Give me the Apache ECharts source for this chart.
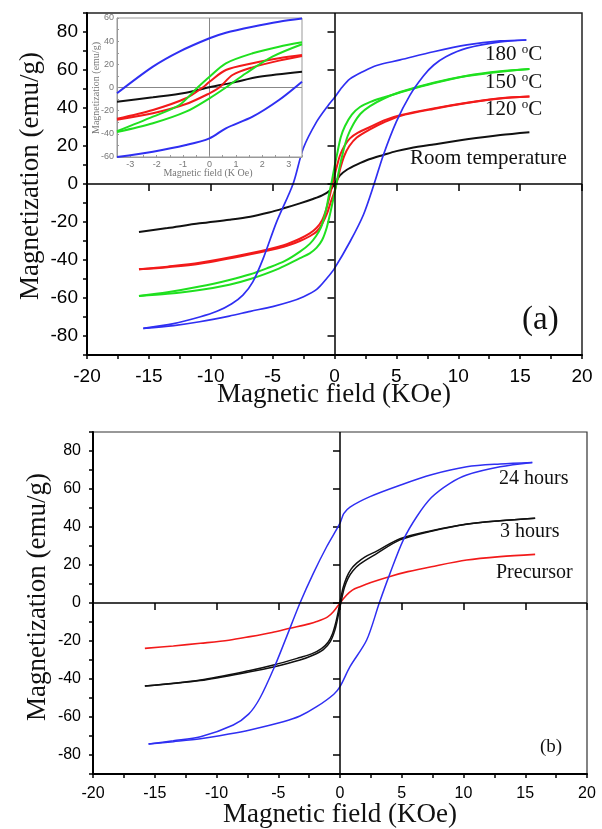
<!DOCTYPE html>
<html>
<head>
<meta charset="utf-8">
<script src="https://cdn.jsdelivr.net/npm/echarts@6/dist/echarts.min.js"></script>
<style>
html, body { margin: 0; padding: 0; background: #fff; }
#chart { width: 602px; height: 829px; }
</style>
</head>
<body>
<div id="chart"></div>
<script>
// panel (a): loops measured at different temperatures, [field KOe, emu/g]
const a180Down = [[15.5,75.8],[13.4,75.3],[10.7,73.2],[8,69.6],[5.3,65.3],[3.4,62.4],[2.4,59.5],[1.25,55.3],[0.5,50],[0,45.5],[-0.5,41.5],[-1.44,32.8],[-2.52,18.8],[-3.35,0],[-4.67,-19.8],[-5.75,-39],[-6.6,-51.5],[-7.4,-58.5],[-8.3,-63],[-9.5,-67],[-10.9,-70],[-13,-73.5],[-15.45,-76]];
const a180Up = [[-15.45,-76],[-13,-74.5],[-10.9,-72.5],[-8.5,-69.5],[-6.8,-67],[-5,-64.5],[-3.6,-62],[-2.5,-59.3],[-1.44,-55.5],[-0.6,-49.5],[0,-44.4],[1.25,-30.4],[2.33,-16.3],[3.2,0],[3.95,15.3],[5.0,32.8],[6.1,46.8],[7.2,57],[8,62.5],[9,67],[10.7,71.5],[13.4,74.8],[15.5,75.8]];
const a150Down = [[15.75,60.5],[13.4,59.1],[10.7,56.8],[8,53],[5.3,48.2],[3.95,45.5],[2.9,43.2],[2.06,40.5],[1.4,36.5],[0.85,30.5],[0.5,24.5],[0.25,17],[0,9],[-0.2,2],[-0.4,-4],[-0.6,-11],[-0.85,-18],[-1.1,-23],[-1.5,-27.5],[-2,-31.5],[-2.79,-35.6],[-4,-40.5],[-5.48,-44.4],[-6.8,-47.5],[-8.5,-50.5],[-10.9,-54],[-13.5,-57],[-15.8,-58.9]];
const a150Up = [[-15.8,-58.9],[-13.5,-57.8],[-10.9,-55.8],[-8.5,-53],[-6.8,-50],[-4.5,-44.5],[-2.79,-39],[-2,-36.5],[-1.44,-33.5],[-1,-29.5],[-0.63,-23],[-0.35,-15.5],[-0.1,-8],[0.15,0],[0.4,8.5],[0.7,17],[1.05,25],[1.52,31.5],[2.1,37],[2.87,41],[4,45],[5.3,48.4],[8,53.3],[10.7,57],[13.4,59.3],[15.75,60.5]];
const a120Down = [[15.75,46],[13.4,45.1],[10.7,42.8],[8,39.8],[5.3,36.2],[4,33.5],[2.87,30],[1.9,27],[1.25,24],[0.8,20],[0.44,15],[0.2,9.5],[0,4.5],[-0.23,-2],[-0.45,-8],[-0.7,-14],[-1,-19],[-1.44,-23],[-2,-26],[-2.8,-28.8],[-4.1,-32.2],[-6.8,-36.5],[-10.9,-41.5],[-13.5,-43.5],[-15.8,-44.9]];
const a120Up = [[-15.8,-44.9],[-13.5,-43.8],[-10.9,-42],[-6.8,-37],[-4.1,-33],[-2.8,-30],[-2,-27.5],[-1.44,-25],[-1,-21],[-0.6,-15.5],[-0.3,-9.5],[0,-4],[0.25,2.5],[0.5,9],[0.8,15],[1.2,20],[1.8,24.5],[2.87,28.8],[4,32.5],[5.3,35.8],[8,39.5],[10.7,42.6],[13.4,45],[15.75,46]];
const aRoom = [[-15.8,-25.3],[-13.5,-23.2],[-10.9,-20.7],[-8.5,-18.8],[-6.8,-17.2],[-5.3,-15],[-4.1,-12.8],[-2.8,-10.2],[-1.8,-8],[-1,-6],[-0.4,-3.5],[0,0],[0.44,4.5],[1,7.5],[1.8,10.2],[2.8,13],[3.95,15.3],[5,17.3],[6.1,18.8],[8,20.8],[10.7,23.5],[13.4,25.8],[15.75,27.3]];

// inset of panel (a), low-field part
const i180Down = [[3.5,59.5],[2.63,56.8],[1.63,52.5],[0.62,47.3],[0,42.5],[-1.14,31],[-2.14,18],[-3.5,-5]];
const i180Up = [[-3.5,-60],[-2.14,-55.4],[-0.89,-49.7],[0,-43.9],[0.62,-35.2],[1.63,-25.2],[2.63,-10.8],[3.5,5]];
const i150Down = [[3.5,39],[2.63,35.2],[1.63,29.5],[0.62,20.9],[0,9.3],[-0.45,0],[-1.14,-15.1],[-2.14,-25.2],[-3.5,-37.8]];
const i150Up = [[-3.5,-38.5],[-2.14,-30.9],[-0.89,-20.9],[0,-9.3],[0.62,0],[1.38,12.3],[2.38,26.6],[3.5,37.3]];
const i120Down = [[3.5,28],[2.63,25.2],[1.63,20.9],[0.62,15.1],[0,5],[-0.26,0],[-0.89,-9.3],[-2.14,-19.4],[-3.5,-27]];
const i120Up = [[-3.5,-27.8],[-2.14,-22.3],[-0.89,-14.3],[0,-5],[0.37,0],[0.87,10.8],[1.63,17.4],[2.63,23.2],[3.5,27.2]];
const iRoom = [[-3.5,-12.3],[-2.14,-8.5],[-0.89,-4.5],[0,0.2],[0.87,4.2],[1.88,9.3],[3.5,13.7]];

// panel (b): reaction time
const b24Down = [[15.57,74],[12.96,73.2],[10.26,71.7],[7.4,67.5],[4.86,62],[2.43,56],[0.81,50.5],[0.3,47],[0,42],[-1.08,29.6],[-2.16,15.6],[-3.24,0],[-4.32,-17.7],[-5.3,-33.5],[-6.48,-50],[-7.4,-58.5],[-8.64,-64.2],[-11.3,-70.4],[-13.5,-72.5],[-15.5,-74.2]];
const b24Up = [[-15.5,-74.2],[-13.5,-73],[-11.3,-71.5],[-9,-69],[-7.29,-66.8],[-4.6,-62.5],[-3.24,-59.5],[-1.89,-54.6],[-0.5,-48],[0,-44],[0.81,-33.5],[2.16,-19.5],[3.18,0],[4.05,15.6],[5.13,33.2],[6.21,45.4],[7.4,55.5],[8.9,63],[10.26,67.4],[12.96,71.7],[15.57,74]];
const b3Down = [[15.8,44.6],[12.96,43.3],[10.26,41.6],[7.4,38],[4.86,33.8],[2.97,27.3],[2,24.2],[1.35,21],[0.9,17.8],[0.54,13.5],[0.25,8],[0.05,2],[-0.13,-4],[-0.35,-10.5],[-0.6,-16],[-0.95,-20.5],[-1.5,-24],[-2.3,-26.8],[-3.24,-28.7],[-5.3,-32.5],[-7.29,-35.5],[-11.3,-40.5],[-15.8,-43.7]];
const b3Up = [[-15.8,-43.7],[-11.3,-40.8],[-7.29,-36.2],[-5.3,-33.5],[-3.24,-30],[-2.2,-27.5],[-1.35,-24.5],[-0.8,-20.5],[-0.4,-14],[-0.12,-6],[0.1,1],[0.35,8],[0.65,13],[1.05,17],[1.6,20.5],[2.97,26],[4.86,33.2],[7.4,37.8],[10.26,41.5],[12.96,43.3],[15.8,44.6]];
const bPrecursor = [[-15.8,-23.9],[-13.5,-22.6],[-11.3,-21.2],[-9,-19.6],[-7.29,-17.7],[-5.5,-15.5],[-4.05,-13.3],[-2.5,-11],[-1.89,-9.8],[-1,-7.3],[-0.54,-4.6],[0,0],[0.54,4.2],[1.0,6.8],[1.62,8.6],[2.5,10.8],[4.05,14],[5.5,16.5],[7.4,19.1],[10.26,22.6],[12.96,24.4],[15.8,25.6]];

const yMajor = [-80, -60, -40, -20, 0, 20, 40, 60, 80];

const SANS = 'Liberation Sans';
const SERIF = 'Liberation Serif';
const BLUE = '#2f2ff2', GREEN = '#1fe01f', RED = '#f21a1a', BLACK = '#111';

const chart = echarts.init(document.getElementById('chart'), null, { renderer: 'canvas' });

function fieldAxis(gridIndex, fontSize, margin) {
  return {
    type: 'value', gridIndex, min: -20, max: 20, interval: 2.5,
    axisLine: { show: true, onZero: false, lineStyle: { color: '#000', width: 2 } },
    axisTick: { show: true, length: 4, lineStyle: { color: '#000', width: 1.5 } },
    axisLabel: { formatter: v => (v % 5 === 0 ? String(v) : ''), fontFamily: SANS, fontSize, color: '#000', margin },
    splitLine: { show: false }
  };
}
function fieldMajor(gridIndex) {
  return {
    type: 'value', gridIndex, min: -20, max: 20, interval: 5, position: 'bottom',
    axisLine: { show: false }, axisLabel: { show: false }, splitLine: { show: false },
    axisTick: { show: true, length: 7, lineStyle: { color: '#000', width: 1.5 } }
  };
}
function magAxis(gridIndex, fontSize, margin) {
  return {
    type: 'value', gridIndex, min: -90, max: 90, interval: 10, position: 'left',
    axisLine: { show: true, onZero: false, lineStyle: { color: '#000', width: 2 } },
    axisTick: { show: true, length: 4, lineStyle: { color: '#000', width: 1.5 } },
    axisLabel: { formatter: v => (v % 20 === 0 ? String(v) : ''), fontFamily: SANS, fontSize, color: '#000', margin },
    splitLine: { show: false }
  };
}
function magMajor(gridIndex) {
  return {
    type: 'value', gridIndex, min: -90, max: 90, position: 'left',
    axisLine: { show: false }, axisLabel: { show: false }, splitLine: { show: false },
    axisTick: { show: true, length: 7, customValues: yMajor, lineStyle: { color: '#000', width: 1.5 } }
  };
}

function zeroLines(color, width) {
  return {
    silent: true, symbol: ['none', 'none'], animation: false,
    label: { show: false },
    lineStyle: { color, width, type: 'solid' },
    data: [{ xAxis: 0 }, { yAxis: 0 }]
  };
}

function curve(data, color, width, axis, z, withZero) {
  const s = {
    type: 'line', data, xAxisIndex: axis, yAxisIndex: axis,
    showSymbol: false, smooth: 0.3, animation: false, silent: true,
    lineStyle: { color, width }, z: z
  };
  if (withZero) s.markLine = withZero;
  return s;
}

function label(text, x, y, size, extra) {
  return {
    type: 'text', x, y, silent: true, z: 10,
    style: Object.assign({
      text, fontFamily: SERIF, fontSize: size, fill: '#111',
      textAlign: 'left', textVerticalAlign: 'middle',
      rich: { s: { fontFamily: SERIF, fontSize: Math.round(size * 0.6), verticalAlign: 'top', fill: '#111' } }
    }, extra || {})
  };
}

const option = {
  backgroundColor: '#fff',
  animation: false,
  grid: [
    { left: 87, top: 13, width: 495, height: 342, show: true, borderColor: '#222', borderWidth: 1.5, backgroundColor: 'transparent' },
    { left: 117, top: 18, width: 185, height: 139, show: true, borderColor: '#999', borderWidth: 1, backgroundColor: '#fff', z: 4 },
    { left: 93, top: 432, width: 494, height: 342, show: true, borderColor: '#333', borderWidth: 1.2, backgroundColor: 'transparent' }
  ],
  xAxis: [
    fieldAxis(0, 19, 12),
    fieldMajor(0),
    {
      type: 'value', gridIndex: 1, min: -3.5, max: 3.5, interval: 0.5, z: 5,
      axisLine: { show: true, onZero: false, lineStyle: { color: '#999', width: 1 } },
      axisTick: { show: true, inside: true, length: 2, lineStyle: { color: '#999' } },
      axisLabel: { formatter: v => (Number.isInteger(v) ? String(v) : ''), fontFamily: SANS, fontSize: 9, color: '#777', margin: 3 },
      splitLine: { show: false }
    },
    fieldAxis(2, 16, 12),
    fieldMajor(2)
  ],
  yAxis: [
    magAxis(0, 19, 9),
    magMajor(0),
    {
      type: 'value', gridIndex: 1, min: -60, max: 60, interval: 10, z: 5,
      axisLine: { show: true, onZero: false, lineStyle: { color: '#999', width: 1 } },
      axisTick: { show: true, inside: true, length: 2, lineStyle: { color: '#999' } },
      axisLabel: { formatter: v => (v % 20 === 0 ? String(v) : ''), fontFamily: SANS, fontSize: 9, color: '#777', margin: 3 },
      splitLine: { show: false }
    },
    magAxis(2, 16, 12),
    magMajor(2)
  ],
  series: [
    curve(aRoom, BLACK, 2, 0, 3, zeroLines('#000', 1.5)),
    curve(a120Down, RED, 2, 0, 3),
    curve(a120Up, RED, 2, 0, 3),
    curve(a150Down, GREEN, 2, 0, 3),
    curve(a150Up, GREEN, 2, 0, 3),
    curve(a180Down, BLUE, 1.7, 0, 3),
    curve(a180Up, BLUE, 1.7, 0, 3),

    curve(iRoom, BLACK, 2, 2, 6, zeroLines('#888', 1)),
    curve(i120Down, RED, 2, 2, 6),
    curve(i120Up, RED, 2, 2, 6),
    curve(i150Down, GREEN, 2, 2, 6),
    curve(i150Up, GREEN, 2, 2, 6),
    curve(i180Down, BLUE, 2, 2, 6),
    curve(i180Up, BLUE, 2, 2, 6),

    curve(bPrecursor, RED, 1.6, 3, 3, zeroLines('#000', 1.5)),
    curve(b3Down, BLACK, 1.5, 3, 3),
    curve(b3Up, BLACK, 1.5, 3, 3),
    curve(b24Down, BLUE, 1.5, 3, 3),
    curve(b24Up, BLUE, 1.5, 3, 3)
  ],
  graphic: [
    // axis titles
    label('Magnetization (emu/g)', 31, 176, 27, { textAlign: 'center' }),
    label('Magnetic field (KOe)', 334, 395, 27, { textAlign: 'center' }),
    label('Magnetization (emu/g)', 38, 597, 27, { textAlign: 'center' }),
    label('Magnetic field (KOe)', 340, 815, 27, { textAlign: 'center' }),
    // inset titles
    label('Magnetization (emu/g)', 96, 88, 10, { textAlign: 'center', fill: '#777' }),
    label('Magnetic field (K Oe)', 208, 173, 10, { textAlign: 'center', fill: '#777' }),
    // curve labels
    label('180 {s|o}C', 485, 54, 21),
    label('150 {s|o}C', 485, 82, 21),
    label('120 {s|o}C', 485, 109, 21),
    label('Room temperature', 410, 158, 21),
    label('(a)', 522, 320, 33),
    label('24 hours', 499, 479, 20),
    label('3 hours', 500, 532, 20),
    label('Precursor', 496, 573, 20),
    label('(b)', 540, 747, 19)
  ]
};

// rotate the vertical titles
[0, 2, 4].forEach(i => { option.graphic[i].rotation = Math.PI / 2; });

chart.setOption(option);
</script>
</body>
</html>
